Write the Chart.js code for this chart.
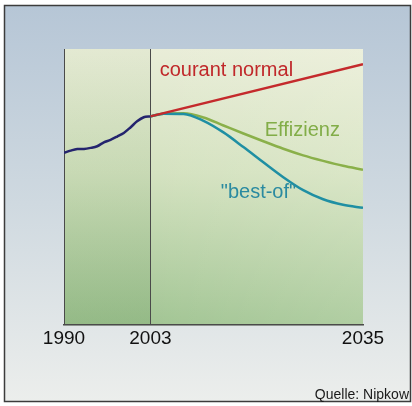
<!DOCTYPE html>
<html>
<head>
<meta charset="utf-8">
<script src="https://cdn.jsdelivr.net/npm/chart.js@4"></script>
<style>
  html, body { margin: 0; padding: 0; background: #fff; }
  #wrap { width: 412px; height: 406px; }
</style>
</head>
<body>
<div id="wrap"><canvas id="chartContainer" width="412" height="406"></canvas></div>
<script>
// Data
const tickYears = [1990, 2003, 2035];
const histYears = [1990, 1991, 1992, 1993, 1994, 1995, 1996, 1997, 1998, 1999, 2000, 2001, 2002, 2003];
const histValues = [62.4, 63.2, 63.8, 63.8, 64.2, 64.8, 66.2, 67.1, 68.3, 69.6, 71.6, 73.8, 75.3, 75.6];
const courantYears = [2003, 2035];
const courantValues = [75.6, 94.5];
const projYears = [2003, 2005, 2008, 2011, 2014, 2017, 2020, 2023, 2026, 2029, 2032, 2035];
const effizienzValues = [75.6, 76.6, 76.7, 75.2, 72.3, 69.4, 66.6, 63.9, 61.5, 59.5, 57.7, 56.3];
const bestOfValues = [75.6, 76.6, 76.5, 74.0, 69.8, 64.5, 59.0, 53.6, 48.9, 45.6, 43.6, 42.5];

// Labels next to the curves: [text, year, value, colour]
const curveLabels = [
    ['courant normal', 2004.4, 90.2, '#c0282a'],
    ['Effizienz', 2020.2, 68.5, '#82ad48'],
    ['"best-of"', 2013.6, 46.2, '#2a8aa0']
];

const FONT = '"Liberation Sans", Arial, sans-serif';

function toPoints(xs, ys) {
    return xs.map((x, i) => ({ x: x, y: ys[i] }));
}

// Background, frame and plot area fill
const backdrop = {
    id: 'backdrop',
    beforeDraw(chart) {
        const ctx = chart.ctx;
        const area = chart.chartArea;
        const xs = chart.scales.x;
        ctx.save();
        ctx.fillStyle = '#ffffff';
        ctx.fillRect(0, 0, chart.width, chart.height);

        // outer panel
        const g = ctx.createLinearGradient(0, 5, 0, 402);
        g.addColorStop(0, '#b6c6d6');
        g.addColorStop(0.5, '#cfd9e0');
        g.addColorStop(1, '#eceeec');
        ctx.fillStyle = g;
        ctx.fillRect(4.5, 5.5, 406, 396);
        ctx.strokeStyle = '#3c3c3c';
        ctx.lineWidth = 1.5;
        ctx.strokeRect(4.5, 5.5, 406, 396);

        // plot area
        const split = xs.getPixelForValue(2003);
        const v = ctx.createLinearGradient(0, area.top, 0, area.bottom);
        v.addColorStop(0, '#e9edd8');
        v.addColorStop(0.45, '#d4e2c0');
        v.addColorStop(1, '#a2c594');
        ctx.fillStyle = v;
        ctx.fillRect(area.left, area.top, area.right - area.left, area.bottom - area.top);

        const h = ctx.createLinearGradient(split, 0, area.right, 0);
        h.addColorStop(0, 'rgba(255,255,240,0)');
        h.addColorStop(1, 'rgba(255,255,240,0.15)');
        ctx.fillStyle = h;
        ctx.fillRect(split, area.top, area.right - split, area.bottom - area.top);

        const l = ctx.createLinearGradient(0, area.top, 0, area.bottom);
        l.addColorStop(0, 'rgba(120,160,100,0.05)');
        l.addColorStop(1, 'rgba(90,140,80,0.2)');
        ctx.fillStyle = l;
        ctx.fillRect(area.left, area.top, split - area.left, area.bottom - area.top);
        ctx.restore();
    },
    afterDatasetsDraw(chart) {
        const ctx = chart.ctx;
        ctx.save();
        ctx.font = '20px ' + FONT;
        ctx.textBaseline = 'alphabetic';
        ctx.textAlign = 'left';
        curveLabels.forEach(([text, x, y, color]) => {
            ctx.fillStyle = color;
            ctx.fillText(text, chart.scales.x.getPixelForValue(x), chart.scales.y.getPixelForValue(y));
        });
        ctx.font = '14px ' + FONT;
        ctx.fillStyle = '#1a1a1a';
        ctx.textAlign = 'right';
        ctx.fillText('Quelle: Nipkow', 409, 399);
        ctx.restore();
    }
};

const ctx = document.getElementById('chartContainer').getContext('2d');
const chart = new Chart(ctx, {
    type: 'line',
    data: {
        datasets: [
            {
                label: 'historisch',
                data: toPoints(histYears, histValues),
                borderColor: '#24246e',
                borderWidth: 2.5,
                tension: 0.3
            },
            {
                label: 'courant normal',
                data: toPoints(courantYears, courantValues),
                borderColor: '#c42a2c',
                borderWidth: 2.5
            },
            {
                label: '"best-of"',
                data: toPoints(projYears, bestOfValues),
                borderColor: '#1f8fa3',
                borderWidth: 2.5,
                cubicInterpolationMode: 'monotone'
            },
            {
                label: 'Effizienz',
                data: toPoints(projYears, effizienzValues),
                borderColor: '#8ab04a',
                borderWidth: 2.5,
                cubicInterpolationMode: 'monotone'
            }
        ]
    },
    options: {
        responsive: false,
        animation: false,
        events: [],
        elements: { point: { radius: 0 } },
        layout: { padding: { left: 64, right: 49, top: 49, bottom: 54 } },
        plugins: {
            legend: { display: false },
            tooltip: { enabled: false }
        },
        scales: {
            x: {
                type: 'linear',
                min: 1990,
                max: 2035,
                afterBuildTicks: axis => {
                    axis.ticks = tickYears.map(v => ({ value: v }));
                },
                ticks: {
                    color: '#111',
                    font: { family: FONT, size: 19 },
                    padding: 2,
                    maxRotation: 0,
                    autoSkip: false,
                    callback: v => String(v)
                },
                grid: {
                    drawTicks: false,
                    color: c => (c.tick && c.tick.value === 2035) ? 'rgba(0,0,0,0)' : '#4a4a4a',
                    lineWidth: 1
                },
                border: { display: true, color: '#4a4a4a', width: 1.5 }
            },
            y: {
                display: false,
                min: 0,
                max: 100
            }
        }
    },
    plugins: [backdrop]
});
</script>
</body>
</html>
